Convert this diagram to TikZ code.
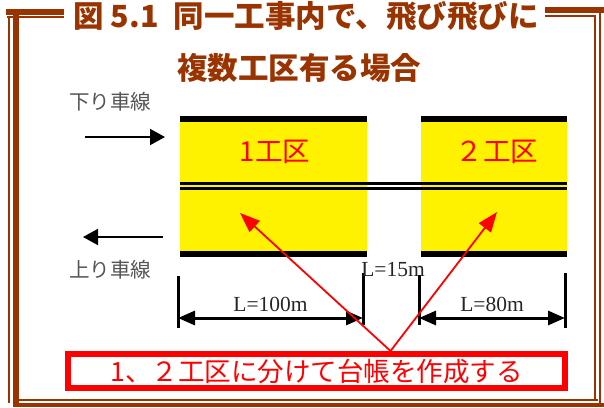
\documentclass[tikz,border=0pt]{standalone}
\usepackage{fontspec}
\setmainfont{Liberation Serif}
\newfontfamily\jpfont{Noto Sans CJK JP}
\usetikzlibrary{arrows.meta,positioning}
\definecolor{framebrown}{RGB}{153,51,0}
\definecolor{lanegray}{RGB}{85,85,85}
\tikzset{%
  title text/.style={
    font=\jpfont\bfseries\fontsize{30.5}{30.5}\selectfont,
    text=framebrown,
    inner sep=0pt
  },
  section label/.style={
    font=\jpfont\fontsize{27.5}{27.5}\selectfont,
    text=red,
    inner sep=0pt
  },
  lane label/.style={
    font=\jpfont\fontsize{20.5}{20.5}\selectfont,
    text=lanegray,
    inner sep=0pt
  },
  length label/.style={
    font=\fontsize{21.5}{21.5}\selectfont,
    text=black!85,
    inner sep=0pt
  },
  note box/.style={
    draw=red,
    line width=6pt,
    minimum width=497pt,
    minimum height=34pt,
    inner sep=0pt,
    text=red,
    font=\jpfont\fontsize{26.5}{26.5}\selectfont
  },
  frame thick/.style={draw=framebrown, line width=5.5pt},
  frame thin/.style={draw=framebrown, line width=1.8pt},
  lane arrow/.style={line width=2pt, -{Triangle[length=15pt,width=16pt]}},
  dim tick/.style={line width=3pt},
  dim arrow/.style={line width=3pt,
    {Triangle[length=17pt,width=14pt]}-{Triangle[length=17pt,width=14pt]}},
  pointer/.style={draw=red, line width=1.8pt, -{Triangle[length=20pt,width=15pt]}}
 }

\begin{document}
\begin{tikzpicture}[x=1pt, y=-1pt]
\useasboundingbox (0,0) rectangle (604,407);

% frame
\draw[frame thick] (6,12) -- (64,12);
\draw[frame thin] (7,16.8) -- (64,16.8);
\draw[frame thick, line width=6.5pt] (545,10) -- (604,10);
\draw[frame thin] (545,16) -- (596,16);
\draw[frame thin, line width=2pt] (9,16) -- (9,403);
\draw[frame thick, line width=6pt] (16,15) -- (16,403);
\draw[frame thin] (13,400) -- (598,400);
\draw[frame thick, line width=4pt] (13,405) -- (604,405);
\draw[frame thin, line width=2pt] (595,15) -- (595,401);
\draw[frame thin, line width=2.4pt] (600,13) -- (600,407);

\node[title text] (title-1) at (306,16) {図 5.1\hspace{0.5em}同一工事内で、飛び飛びに};
\node[title text] (title-2) at (299,68) {複数工区有る場合};

% sections
\foreach \n/\xa/\xb in {1/180/367, 2/421/567}{
  \fill[yellow] (\xa,122) rectangle (\xb,251);
  \fill (\xa,116) rectangle (\xb,122);
  \fill (\xa,251) rectangle (\xb,257);
}
\fill (180,181.7) rectangle (567,185);
\fill (180,187.3) rectangle (567,190);

\node[section label] (sec-1) at (275,152) {1工区};
\node[section label] (sec-2) at (497,152) {２工区};

% lanes
\node[lane label] (down-lane) at (110,102) {下り車線};
\node[lane label] (up-lane) at (110,270) {上り車線};
\coordinate (down-a) at (85,137);
\coordinate (down-b) at (165,137);
\coordinate (up-a) at (163,237);
\coordinate (up-b) at (83,237);
\draw[lane arrow] (down-a) -- (down-b);
\draw[lane arrow] (up-a) -- (up-b);

% lengths
\foreach \i/\x/\ya/\yb in {1/178/276/328, 2/363/273/325, 3/419/275/325, 4/565/273/328}{
  \draw[dim tick] (\x,\ya) -- (\x,\yb);
  \coordinate (dim-\i) at (\x,318);
}
\draw[dim arrow] (dim-1) -- (dim-2)
  node[length label, midway, above=5pt] (len-1) {L=100m};
\draw[dim arrow] (dim-3) -- (dim-4)
  node[length label, midway, above=5pt] (len-2) {L=80m};
\node[length label] (len-gap) at (393,270) {L=15m};

% note
\node[note box] (note) at (316.5,371) {1、２工区に分けて台帳を作成する};
\coordinate (hit-1) at (240,213);
\coordinate (hit-2) at (497,212);
\draw[pointer] ([xshift=74pt]note.north) -- (hit-1);
\draw[pointer] ([xshift=74pt]note.north) -- (hit-2);

\end{tikzpicture}
\end{document}
